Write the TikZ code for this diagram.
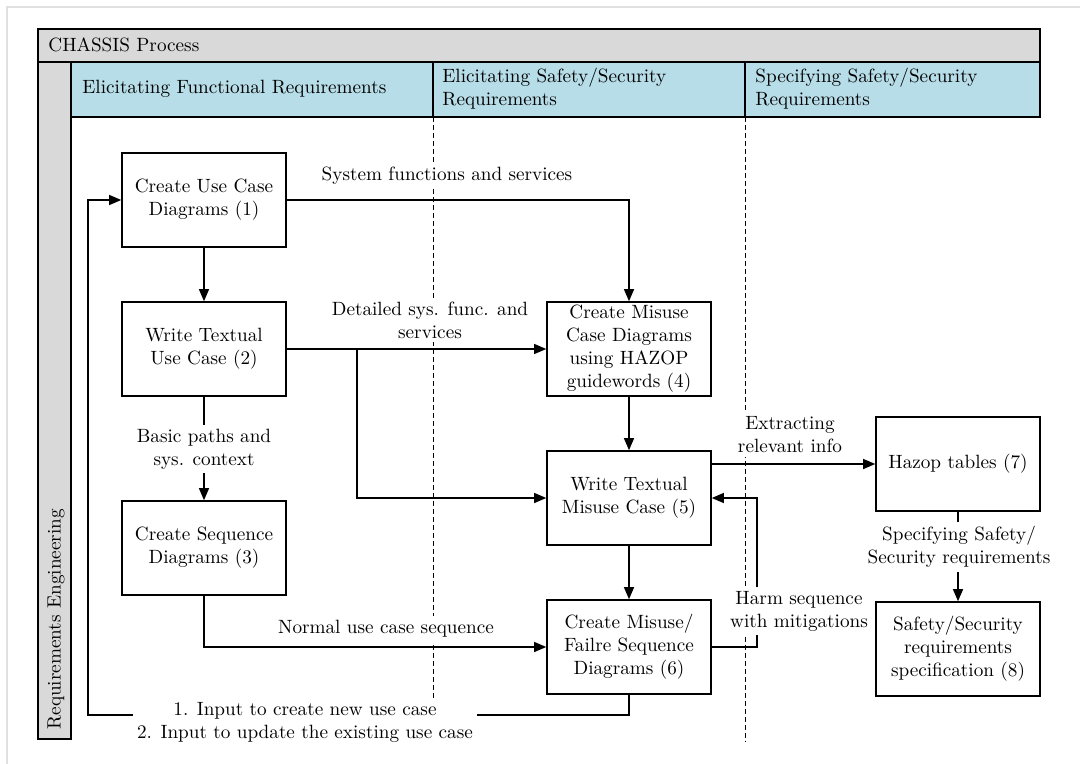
\documentclass[tikz,border=0pt]{standalone}
\usetikzlibrary{arrows.meta,calc}
\definecolor{hdrgray}{HTML}{D9D9D9}
\definecolor{hdrblue}{HTML}{B7DDE8}
\begin{document}
\begin{tikzpicture}[x=0.5pt,y=-0.5pt,
  every node/.append style={font=\fontsize{9.6}{11.5}\selectfont},
  box/.style={draw=black,line width=0.8pt,minimum width=82pt,minimum height=47pt,
    align=center,inner sep=1pt,fill=white},
  conn/.style={line width=0.6pt,-{Triangle[length=6pt,width=5pt]}},
  lbl/.style={fill=white,align=center,inner sep=2pt},
  lanesep/.style={dash pattern=on 2.5pt off 1.5pt,line width=0.5pt},
  hdrtext/.style={anchor=west,align=left,inner sep=3pt}]
\useasboundingbox (0,0) rectangle (1080,764);
% page edge
\draw[black!12,line width=0.6pt] (7,764) -- (7,7) -- (1080,7);

% pool header and lane titles
\draw[fill=hdrgray,line width=0.8pt] (38,29) rectangle (1040,62);
\node[hdrtext] (proc) at (42,45) {CHASSIS Process};
\draw[fill=hdrgray,line width=0.8pt] (38,62) rectangle (71,739);
\node[rotate=90,anchor=west,inner sep=3pt] (reqeng) at (56,736) {Requirements Engineering};
\draw[fill=hdrblue,line width=0.8pt] (71,62) rectangle (1040,117);
\draw[line width=0.8pt] (433,62) -- (433,117) (745,62) -- (745,117);
\node[hdrtext] (lane1) at (76,89) {Elicitating Functional Requirements};
\node[hdrtext] (lane2) at (436,89) {Elicitating Safety/Security\\Requirements};
\node[hdrtext] (lane3) at (749,89) {Specifying Safety/Security\\Requirements};

% lane separators
\draw[lanesep] (433,117) -- (433,742);
\draw[lanesep] (745,117) -- (745,742);

% process steps
\node[box] (b1) at (204,200) {Create Use Case\\Diagrams (1)};
\node[box] (b2) at (204,349) {Write Textual\\Use Case (2)};
\node[box] (b3) at (204,548) {Create Sequence\\Diagrams (3)};
\node[box] (b4) at (629,349) {Create Misuse\\Case Diagrams\\using HAZOP\\guidewords (4)};
\node[box] (b5) at (629,498) {Write Textual\\Misuse Case (5)};
\node[box] (b6) at (629,647) {Create Misuse/\\Failre Sequence\\Diagrams (6)};
\node[box] (b7) at (958,464) {Hazop tables (7)};
\node[box] (b8) at (958,649) {Safety/Security\\requirements\\specification (8)};

% connectors
\coordinate (br) at (357,349);
\coordinate (hs) at (757,647);
\coordinate (fb) at (88,715);
\draw[conn] (b1) -- (b2);
\draw[conn] (b1.east) -| (b4.north);
\draw[conn] (b2) -- (b4);
\draw[conn] (br) |- (b5.west);
\draw[conn] (b2) -- (b3);
\draw[conn] (b4) -- (b5);
\draw[conn] (b5) -- (b6);
\draw[conn] (b3.south) |- (b6.west);
\draw[conn] (b5.east |- b7.west) -- (b7.west);
\draw[conn] (b6.east) -- (hs) |- (b5.east);
\draw[conn] (b6.south) |- (fb) |- (b1.west);
\draw[conn] (b7) -- (b8);

% connector labels
\node[lbl] (lsys) at (447,176) {System functions and services};
\node[lbl] (ldet) at (430,320) {Detailed sys. func. and\\services};
\node[lbl] (lbasic) at (204,449) {Basic paths and\\sys. context};
\node[lbl] (lnorm) at (386,629) {Normal use case sequence};
\node[lbl] (lext) at (790,435) {Extracting\\relevant info};
\node[lbl] (lharm) at (799,611) {Harm sequence\\with mitigations};
\node[lbl] (lspec) at (959,547) {Specifying Safety/\\Security requirements};
\node[lbl] (linput) at (305,722) {1. Input to create new use case\\2. Input to update the existing use case};
\end{tikzpicture}
\end{document}
